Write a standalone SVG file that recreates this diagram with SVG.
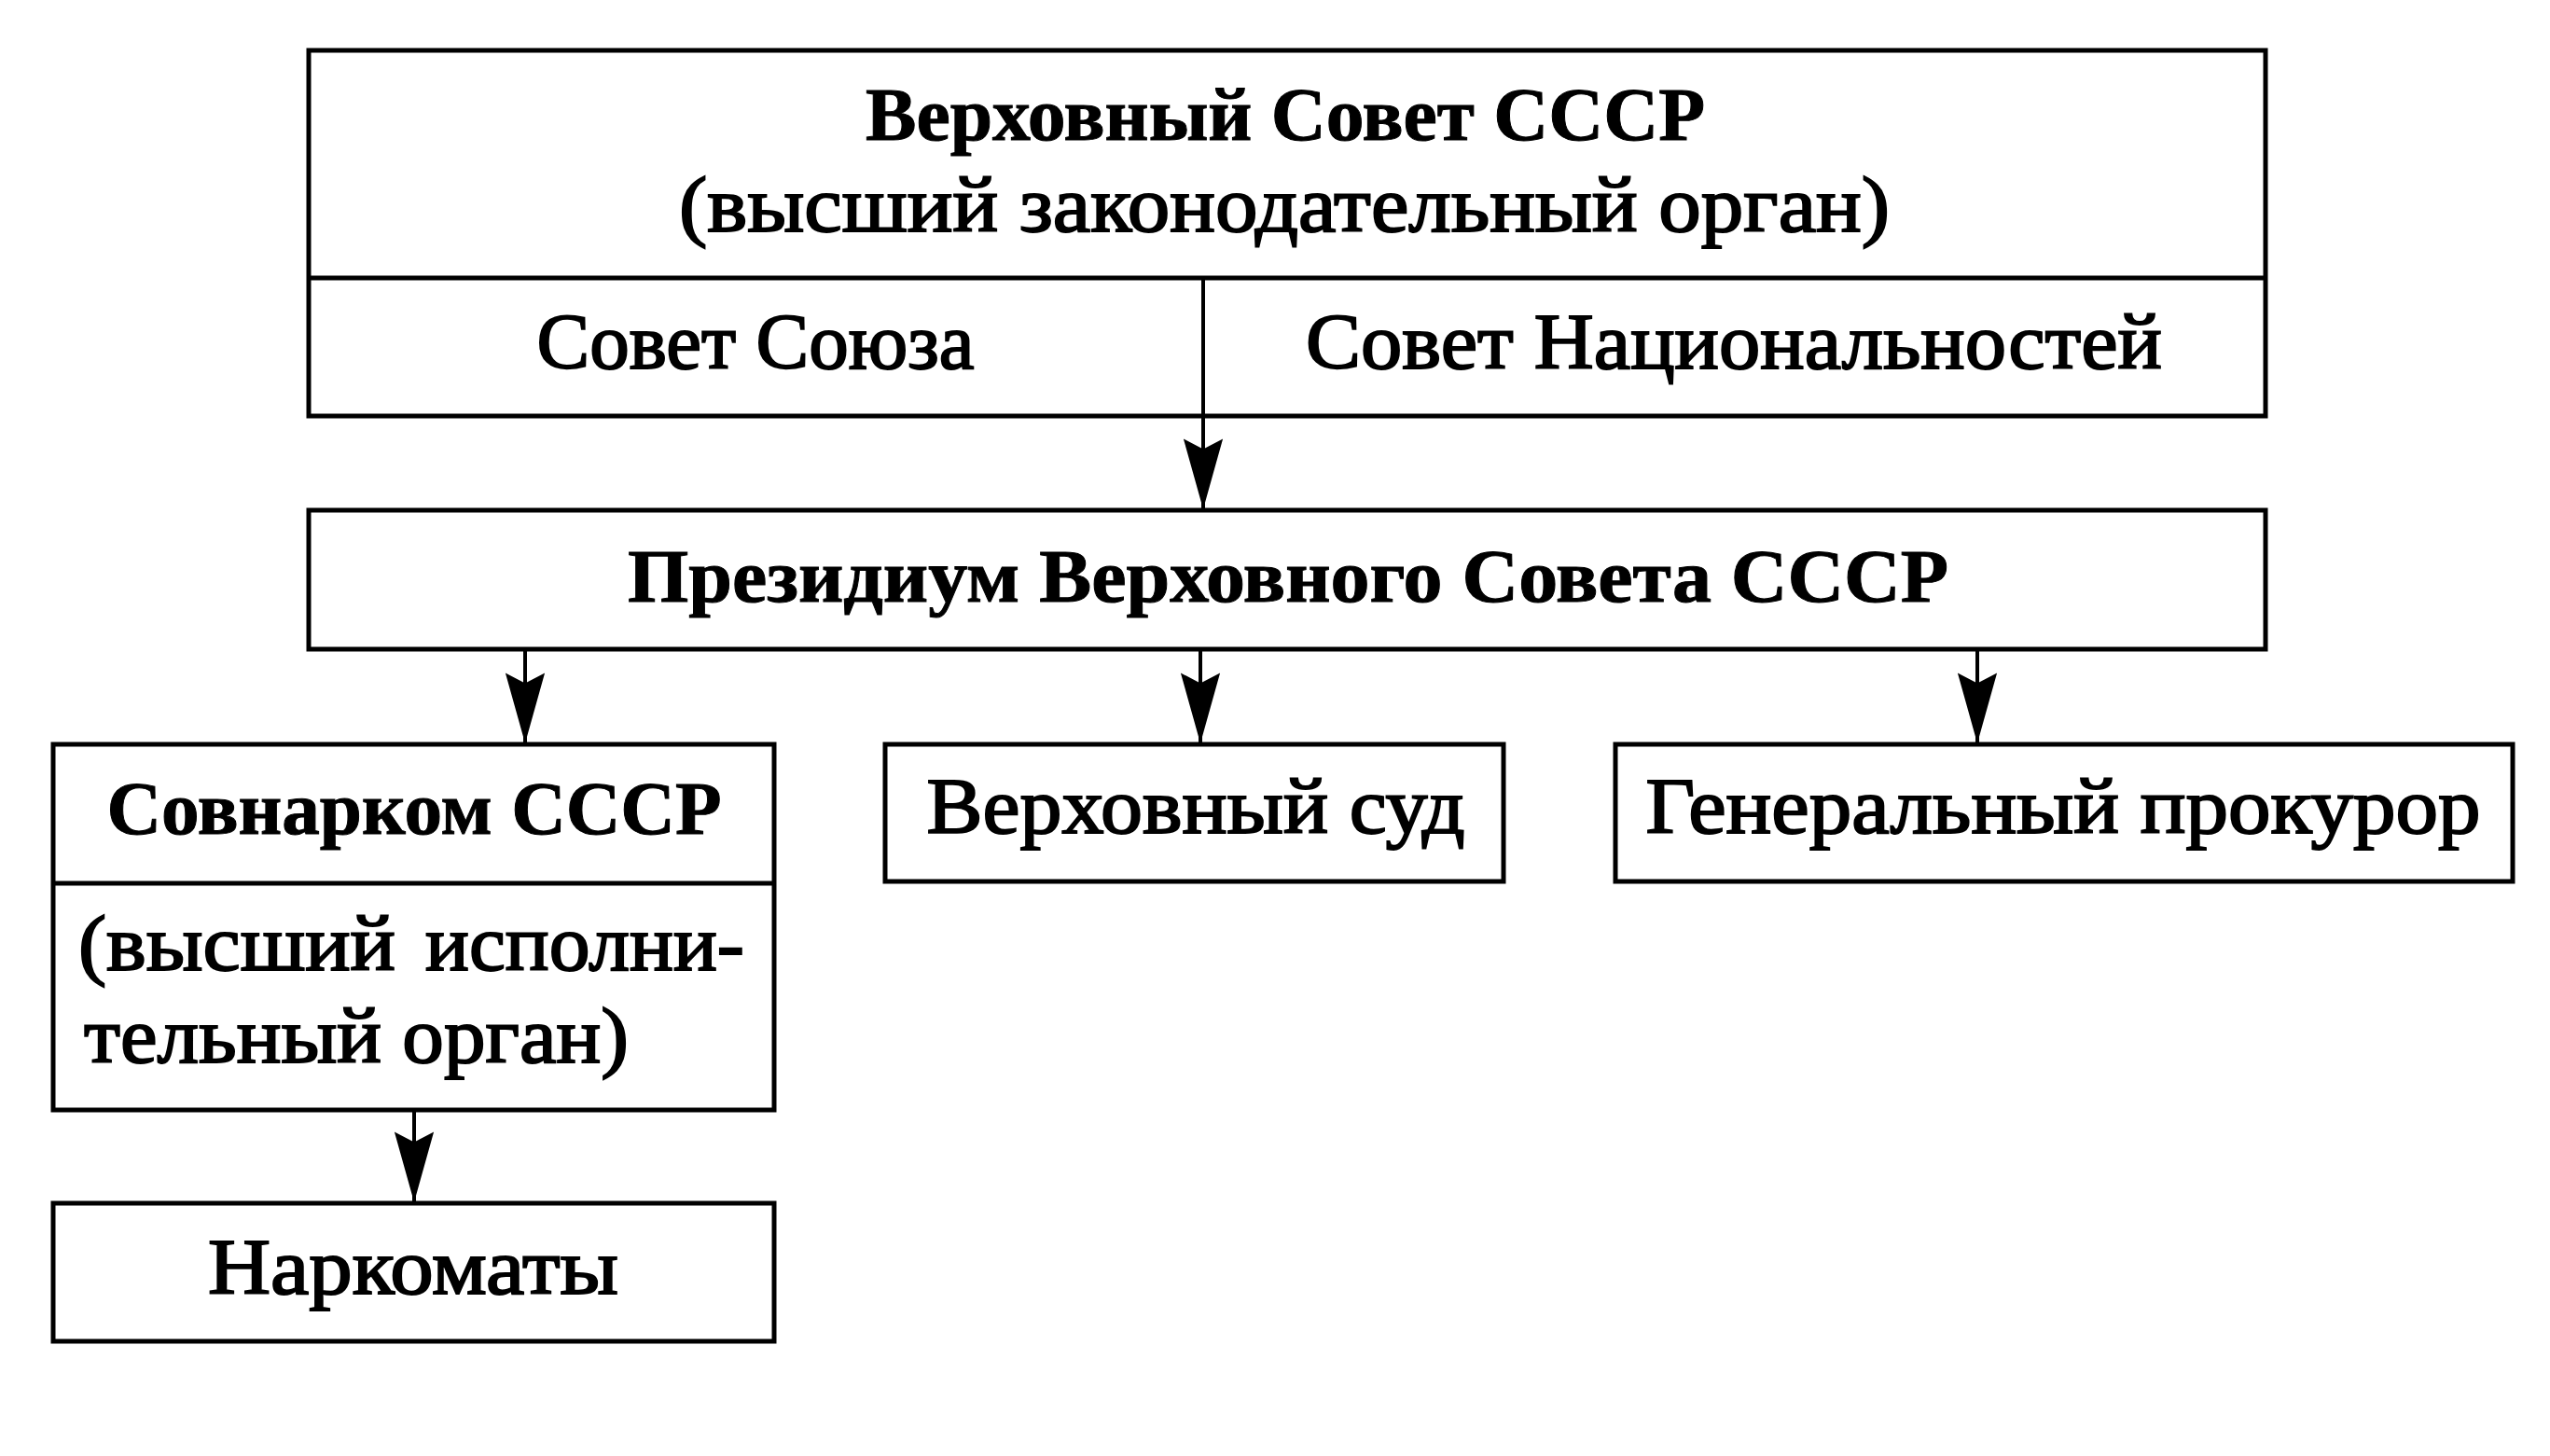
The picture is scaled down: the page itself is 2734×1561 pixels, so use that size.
<svg xmlns="http://www.w3.org/2000/svg" width="2734" height="1561" viewBox="0 0 2734 1561">
<defs>
<style>
.box{fill:#fff;stroke:#000;stroke-width:5}
.div{stroke:#000;stroke-width:5;fill:none}
.t{font-family:"Liberation Serif","Times New Roman",serif;font-size:85px;fill:#000;stroke:#000;stroke-width:2}
.b{font-family:"Liberation Serif","Times New Roman",serif;font-size:80px;font-weight:bold;fill:#000;stroke:#000;stroke-width:1}
.c{text-anchor:middle}
.conn{stroke:#000;stroke-width:4;fill:none;marker-end:url(#ah)}
</style>
<marker id="ah" markerUnits="userSpaceOnUse" markerWidth="80" markerHeight="50" viewBox="-70 -22 72 44" refX="0" refY="0" orient="auto">
<path d="M0,0 L-68,-19 L-58,0 L-68,19 Z" fill="#000"/>
</marker>
</defs>
<rect width="2734" height="1561" fill="#fff"/>
<g id="connectors">
<line class="conn" x1="1290" y1="446" x2="1290" y2="546"/>
<line class="conn" x1="563" y1="696" x2="563" y2="797"/>
<line class="conn" x1="1287" y1="696" x2="1287" y2="797"/>
<line class="conn" x1="2120" y1="696" x2="2120" y2="797"/>
<line class="conn" x1="444" y1="1190" x2="444" y2="1289"/>
</g>
<g id="verkhovny-sovet">
<rect class="box" x="331" y="54" width="2098" height="392"/>
<line class="div" x1="331" y1="298" x2="2429" y2="298"/>
<line class="div" x1="1290" y1="298" x2="1290" y2="446" style="stroke-width:4"/>
<text class="b c" x="1378" y="150" textLength="900" lengthAdjust="spacingAndGlyphs">Верховный Совет СССР</text>
<text class="t c" x="1377" y="248" textLength="1298" lengthAdjust="spacingAndGlyphs">(высший законодательный орган)</text>
</g>
<g id="sovet-soyuza">
<text class="t c" x="810" y="395" textLength="469" lengthAdjust="spacingAndGlyphs">Совет Союза</text>
</g>
<g id="sovet-natsionalnostey">
<text class="t c" x="1859" y="395" textLength="918" lengthAdjust="spacingAndGlyphs">Совет Национальностей</text>
</g>
<g id="prezidium">
<rect class="box" x="331" y="547" width="2098" height="149"/>
<text class="b c" x="1381" y="645" textLength="1416" lengthAdjust="spacingAndGlyphs">Президиум Верховного Совета СССР</text>
</g>
<g id="sovnarkom">
<rect class="box" x="57" y="798" width="773" height="392"/>
<line class="div" x1="57" y1="947" x2="830" y2="947"/>
<text class="b c" x="444" y="894" textLength="659" lengthAdjust="spacingAndGlyphs">Совнарком СССР</text>
<text class="t" y="1040"><tspan x="84" textLength="340" lengthAdjust="spacingAndGlyphs">(высший</tspan><tspan x="456" textLength="342" lengthAdjust="spacingAndGlyphs">исполни-</tspan></text>
<text class="t" x="90" y="1139" textLength="584" lengthAdjust="spacingAndGlyphs">тельный орган)</text>
</g>
<g id="narkomaty">
<rect class="box" x="57" y="1290" width="773" height="148"/>
<text class="t c" x="443" y="1387" textLength="440" lengthAdjust="spacingAndGlyphs">Наркоматы</text>
</g>
<g id="verkhovny-sud">
<rect class="box" x="949" y="798" width="663" height="147"/>
<text class="t c" x="1282" y="893" textLength="577" lengthAdjust="spacingAndGlyphs">Верховный суд</text>
</g>
<g id="genprokuror">
<rect class="box" x="1732" y="798" width="962" height="147"/>
<text class="t c" x="2212" y="893" textLength="895" lengthAdjust="spacingAndGlyphs">Генеральный прокурор</text>
</g>
</svg>
